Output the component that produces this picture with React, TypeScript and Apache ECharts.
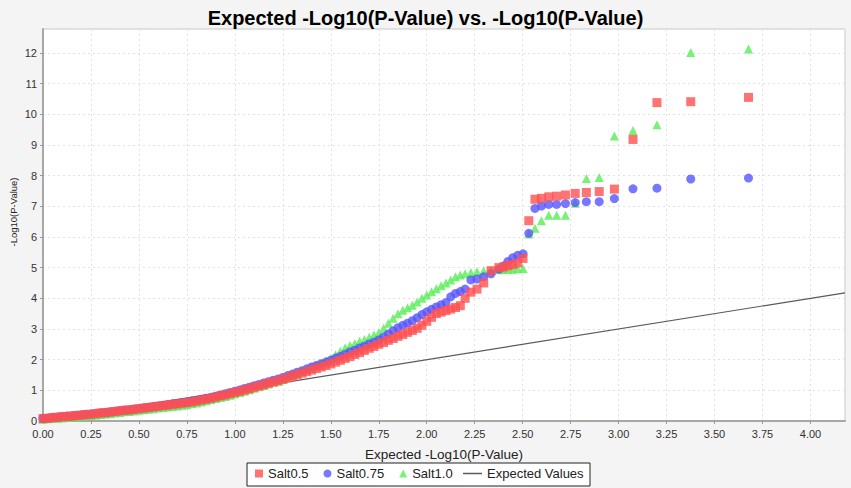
import React, { useEffect, useRef } from "react";
import * as echarts from "echarts";

const titleText = "Expected -Log10(P-Value) vs. -Log10(P-Value)";
const xAxisName = "Expected -Log10(P-Value)";
const yAxisName = "-Log10(P-Value)";
const scatterNames = ["Salt0.5", "Salt0.75", "Salt1.0"];
const lineName = "Expected Values";

const expectedX = [
  0, 0.025, 0.05, 0.075, 0.1, 0.125, 0.15, 0.175, 0.2, 0.225, 0.25, 0.275, 0.3, 0.325, 0.35, 0.375,
  0.4, 0.425, 0.45, 0.475, 0.5, 0.525, 0.55, 0.575, 0.6, 0.625, 0.65, 0.675, 0.7, 0.725, 0.75,
  0.775, 0.8, 0.825, 0.85, 0.875, 0.9, 0.925, 0.95, 0.975, 1.0,
  1.025, 1.05, 1.075, 1.1, 1.125, 1.15, 1.175, 1.2, 1.225, 1.25,
  1.275, 1.3, 1.325, 1.35, 1.375, 1.4, 1.425, 1.45, 1.475, 1.5,
  1.525, 1.55, 1.575, 1.6, 1.625, 1.65, 1.675, 1.7, 1.725, 1.75,
  1.775, 1.8, 1.825, 1.85, 1.875, 1.9, 1.925, 1.95, 1.975, 2.0,
  2.025, 2.05, 2.075, 2.1, 2.125, 2.15, 2.175,
  2.2, 2.23, 2.262, 2.297, 2.335, 2.376, 2.399, 2.423, 2.448, 2.474, 2.502, 2.532, 2.564,
  2.598, 2.636, 2.677, 2.723, 2.774, 2.832, 2.899, 2.978, 3.075, 3.2, 3.376, 3.677,
];

const salt05 = [
  0.08, 0.09, 0.11, 0.12, 0.14, 0.15, 0.16, 0.18, 0.19, 0.21, 0.22, 0.24, 0.26, 0.27, 0.29, 0.31,
  0.33, 0.35, 0.36, 0.38, 0.4, 0.42, 0.44, 0.46, 0.48, 0.5, 0.52, 0.54, 0.56, 0.58, 0.6,
  0.62, 0.65, 0.68, 0.71, 0.74, 0.78, 0.82, 0.85, 0.89, 0.93,
  0.97, 1.01, 1.05, 1.1, 1.14, 1.18, 1.23, 1.27, 1.31, 1.36,
  1.41, 1.46, 1.51, 1.56, 1.61, 1.66, 1.71, 1.76, 1.81, 1.86,
  1.92, 1.98, 2.04, 2.1, 2.17, 2.23, 2.3, 2.37, 2.43, 2.5,
  2.56, 2.63, 2.69, 2.76, 2.82, 2.89, 2.95, 3.02, 3.12, 3.25,
  3.38, 3.5, 3.55, 3.6, 3.65, 3.7, 3.76,
  4.0, 4.2, 4.3, 4.5, 4.9, 5.0, 5.02, 5.06, 5.1, 5.15, 5.3, 6.53, 7.23,
  7.26, 7.31, 7.33, 7.37, 7.42, 7.45, 7.48, 7.56, 9.18, 10.38, 10.41, 10.55,
];

const salt075 = [
  0.09, 0.1, 0.12, 0.13, 0.15, 0.16, 0.17, 0.19, 0.2, 0.22, 0.23, 0.25, 0.27, 0.28, 0.3, 0.32,
  0.34, 0.36, 0.37, 0.39, 0.41, 0.43, 0.45, 0.47, 0.49, 0.51, 0.53, 0.56, 0.58, 0.6, 0.62,
  0.65, 0.68, 0.71, 0.74, 0.77, 0.81, 0.85, 0.89, 0.93, 0.97,
  1.01, 1.06, 1.1, 1.15, 1.19, 1.24, 1.28, 1.33, 1.37, 1.42,
  1.48, 1.53, 1.59, 1.64, 1.7, 1.76, 1.81, 1.87, 1.92, 1.98,
  2.05, 2.11, 2.18, 2.25, 2.31, 2.38, 2.44, 2.51, 2.57, 2.64,
  2.74, 2.84, 2.94, 3.04, 3.12, 3.19, 3.27, 3.37, 3.47, 3.56,
  3.64, 3.72, 3.79, 3.86, 4.05, 4.16, 4.22,
  4.3, 4.6, 4.63, 4.7, 4.8, 4.95, 5.05, 5.2, 5.32, 5.4, 5.45, 6.12, 6.93,
  7.01, 7.06, 7.06, 7.09, 7.12, 7.15, 7.15, 7.25, 7.57, 7.59, 7.89, 7.92,
];

const salt10 = [
  0.06, 0.07, 0.08, 0.09, 0.1, 0.12, 0.13, 0.14, 0.15, 0.17, 0.18, 0.19, 0.21, 0.23, 0.24, 0.26,
  0.28, 0.3, 0.31, 0.33, 0.35, 0.37, 0.38, 0.4, 0.42, 0.44, 0.46, 0.47, 0.49, 0.51, 0.53,
  0.56, 0.59, 0.62, 0.66, 0.69, 0.73, 0.77, 0.8, 0.84, 0.88,
  0.93, 0.97, 1.02, 1.07, 1.12, 1.16, 1.21, 1.26, 1.3, 1.35,
  1.42, 1.48, 1.55, 1.62, 1.68, 1.75, 1.82, 1.89, 1.97, 2.04,
  2.16, 2.27, 2.39, 2.46, 2.53, 2.6, 2.66, 2.73, 2.8, 2.88,
  3.02, 3.19, 3.35, 3.5, 3.61, 3.69, 3.77, 3.88, 4.0, 4.11,
  4.21, 4.31, 4.41, 4.5, 4.6, 4.7, 4.76,
  4.8, 4.84, 4.87, 4.9, 4.92, 4.93, 4.94, 4.95, 4.95, 4.96, 4.97, 6.1, 6.28,
  6.53, 6.71, 6.71, 6.71, 7.1, 7.91, 7.94, 9.29, 9.47, 9.66, 12.01, 12.13,
];

const expectedLineX = [0, 4.18];
const expectedLineY = [0, 4.18];

const X_MAX = 4.18;
const Y_MAX = 12.78;

const FONT = "'Liberation Sans', Arial, sans-serif";

export default function App() {
  const ref = useRef<HTMLDivElement>(null);

  useEffect(() => {
    if (!ref.current) return;
    const chart = echarts.init(ref.current, undefined, { renderer: "svg" });
    const zip = (ys: number[]) => expectedX.map((x, i) => [x, ys[i]]);

    chart.setOption({
      animation: false,
      backgroundColor: "#f4f4f4",
      textStyle: { fontFamily: FONT },
      title: {
        text: titleText,
        left: "center",
        top: 3,
        textStyle: { fontSize: 20, fontWeight: "bold", color: "#000", fontFamily: FONT },
      },
      grid: {
        left: 43,
        top: 29,
        right: 6,
        bottom: 67,
        show: true,
        backgroundColor: "#ffffff",
        borderColor: "#c8c8c8",
        borderWidth: 1,
      },
      legend: [
        {
          left: 255,
          top: 467,
          data: scatterNames,
          padding: 0,
          itemWidth: 8,
          itemHeight: 8,
          itemGap: 15,
          textStyle: { fontSize: 13, color: "#222", fontFamily: FONT },
        },
        {
          left: 463,
          top: 467,
          data: [{ name: lineName, icon: "rect" }],
          padding: 0,
          itemWidth: 19,
          itemHeight: 1.5,
          textStyle: { fontSize: 13, color: "#222", fontFamily: FONT },
        },
      ],
      xAxis: {
        type: "value",
        min: 0,
        max: X_MAX,
        interval: 0.25,
        name: xAxisName,
        nameLocation: "middle",
        nameGap: 26,
        nameTextStyle: { fontSize: 13.5, color: "#222", fontFamily: FONT },
        axisLine: { show: true, onZero: false, lineStyle: { color: "#a8a8a8", width: 2 } },
        axisTick: { show: true, length: 3, lineStyle: { color: "#999" } },
        axisLabel: {
          fontSize: 11,
          color: "#333",
          margin: 7,
          showMaxLabel: false,
          formatter: (v: number) => v.toFixed(2),
        },
        splitLine: { show: true, lineStyle: { color: "#e2e2e2", type: [2, 3] } },
      },
      yAxis: {
        type: "value",
        min: 0,
        max: Y_MAX,
        interval: 1,
        axisLine: { show: true, onZero: false, lineStyle: { color: "#a8a8a8", width: 2 } },
        axisTick: { show: true, length: 3, lineStyle: { color: "#999" } },
        axisLabel: {
          fontSize: 11,
          color: "#333",
          margin: 6,
          showMaxLabel: false,
        },
        splitLine: { show: true, lineStyle: { color: "#e2e2e2", type: [2, 3] } },
      },
      graphic: [
        {
          type: "rect",
          z: -1,
          silent: true,
          shape: { x: 247, y: 463, width: 343, height: 23 },
          style: { fill: "#ffffff", stroke: "#222", lineWidth: 1 },
        },
        {
          type: "text",
          x: 13,
          y: 212,
          rotation: Math.PI / 2,
          style: {
            text: yAxisName,
            fontSize: 9.5,
            fontFamily: FONT,
            fill: "#222",
            align: "center",
            verticalAlign: "middle",
          },
        },
      ],
      series: [
        {
          name: lineName,
          type: "line",
          data: expectedLineX.map((x, i) => [x, expectedLineY[i]]),
          symbol: "none",
          lineStyle: { color: "#5a5a5a", width: 1.2 },
          itemStyle: { color: "#5a5a5a" },
          z: 1,
        },
        {
          name: "Salt1.0",
          type: "scatter",
          data: zip(salt10),
          symbol: "triangle",
          symbolSize: 9,
          itemStyle: { color: "#55ee55" },
          z: 2,
        },
        {
          name: "Salt0.75",
          type: "scatter",
          data: zip(salt075),
          symbol: "circle",
          symbolSize: 9,
          itemStyle: { color: "#5555ff" },
          z: 3,
        },
        {
          name: "Salt0.5",
          type: "scatter",
          data: zip(salt05),
          symbol: "rect",
          symbolSize: 9,
          itemStyle: { color: "#ff5050" },
          z: 4,
        },
      ],
    });

    return () => chart.dispose();
  }, []);

  return (
    <div
      ref={ref}
      style={{ position: "fixed", left: 0, top: 0, width: 851, height: 488 }}
    />
  );
}
